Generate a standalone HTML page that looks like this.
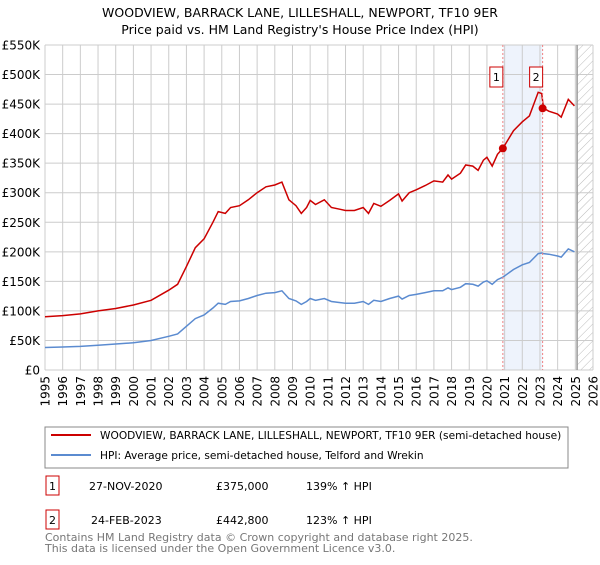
<!DOCTYPE html>
<html><head><meta charset="utf-8"><style>
body{margin:0;background:#fff;font-family:"Liberation Sans","DejaVu Sans",sans-serif;}
svg text{font-family:"DejaVu Sans","Liberation Sans",sans-serif;}
</style></head><body>
<svg id="c" width="600" height="560" viewBox="0 0 600 560" xmlns="http://www.w3.org/2000/svg">
<text x="300" y="17" text-anchor="middle" font-size="12.5" fill="#000">WOODVIEW, BARRACK LANE, LILLESHALL, NEWPORT, TF10 9ER</text>
<text x="300" y="34" text-anchor="middle" font-size="12.5" fill="#000">Price paid vs. HM Land Registry's House Price Index (HPI)</text>
<defs><pattern id="hatch" width="6" height="6" patternUnits="userSpaceOnUse" patternTransform="rotate(45)"><line x1="0" y1="0" x2="0" y2="6" stroke="#bbb" stroke-width="1"/></pattern></defs>
<g id="grid"></g><g id="marks"></g>
<rect x="45" y="427" width="523" height="41" fill="none" stroke="#888"/>
<line x1="51" y1="435" x2="91" y2="435" stroke="#cc0000" stroke-width="2"/>
<text x="100" y="439" font-size="10.6">WOODVIEW, BARRACK LANE, LILLESHALL, NEWPORT, TF10 9ER (semi-detached house)</text>
<line x1="51" y1="455" x2="91" y2="455" stroke="#5b8bd0" stroke-width="2"/>
<text x="100" y="459" font-size="10.6">HPI: Average price, semi-detached house, Telford and Wrekin</text>
<g font-size="11">
<rect x="46" y="476" width="13" height="19" fill="#fff" stroke="#cc0000"/><text x="52.5" y="490" text-anchor="middle">1</text>
<text x="89" y="490">27-NOV-2020</text><text x="216" y="490">£375,000</text><text x="306" y="490">139% ↑ HPI</text></g>
<g font-size="11">
<rect x="46" y="510" width="13" height="19" fill="#fff" stroke="#cc0000"/><text x="52.5" y="524" text-anchor="middle">2</text>
<text x="91" y="524">24-FEB-2023</text><text x="216" y="524">£442,800</text><text x="306" y="524">123% ↑ HPI</text></g>
<text x="45" y="541" font-size="11" fill="#777">Contains HM Land Registry data © Crown copyright and database right 2025.</text>
<text x="45" y="552" font-size="11" fill="#777">This data is licensed under the Open Government Licence v3.0.</text>
</svg>
<script>
const years=[1995,1996,1997,1998,1999,2000,2001,2002,2002.5,2003,2003.5,2004,2004.5,2004.8,2005.2,2005.5,2006,2006.5,2007,2007.5,2008,2008.4,2008.8,2009.2,2009.5,2009.8,2010,2010.3,2010.8,2011.2,2011.7,2012,2012.5,2013,2013.3,2013.6,2014,2014.5,2015,2015.2,2015.6,2016,2016.5,2017,2017.5,2017.8,2018,2018.5,2018.8,2019.2,2019.5,2019.8,2020,2020.3,2020.6,2020.9,2021.5,2022,2022.4,2022.9,2023.1,2023.2,2023.5,2024,2024.2,2024.6,2024.95];
const propertyValues=[90,92,95,100,104,110,118,135,145,175,207,222,250,268,265,275,278,288,300,310,313,318,288,278,265,275,287,280,288,275,272,270,270,275,265,282,277,287,298,286,300,305,312,320,318,330,323,333,347,345,338,355,360,345,365,375,405,420,430,470,468,443,438,433,428,458,447];
const hpiValues=[38,39,40,42,44,46,50,57,61,74,87,93,105,113,111,116,117,121,126,130,131,134,121,117,111,116,121,118,121,116,114,113,113,116,111,118,116,121,125,120,126,128,131,134,134,139,136,140,146,145,142,149,151,145,153,157,170,178,182,197,198,197,196,193,191,205,200];
const saleYears=[2020.9,2023.15];
const salePrices=[375,442.8];
const saleLabels=["1","2"];
const yTicks=[0,50,100,150,200,250,300,350,400,450,500,550];
const xTicks=[1995,1996,1997,1998,1999,2000,2001,2002,2003,2004,2005,2006,2007,2008,2009,2010,2011,2012,2013,2014,2015,2016,2017,2018,2019,2020,2021,2022,2023,2024,2025,2026];
const NS="http://www.w3.org/2000/svg";
const X=y=>45+(y-1995)*(548/31);
const Y=v=>370-v*(325/550);
function mk(p,t,a){const e=document.createElementNS(NS,t);for(const k in a)e.setAttribute(k,a[k]);p.appendChild(e);return e;}
const g=document.getElementById('grid'),m=document.getElementById('marks');
const shade=mk(g,'rect',{x:X(saleYears[0]),y:45,width:X(saleYears[1])-X(saleYears[0]),height:325,fill:'#eef3fc'});


const hatch=mk(g,'rect',{x:X(2025.1),y:45,width:X(2026)-X(2025.1),height:325,fill:'url(#hatch)'});


yTicks.forEach(v=>{
 mk(g,'line',{x1:45,x2:593,y1:Y(v),y2:Y(v),stroke:'#ccc'});
 const t=mk(g,'text',{x:40,y:Y(v)+4.5,'text-anchor':'end','font-size':12});
 t.textContent=v===0?'£0':'£'+v+'K';
 
 
});
xTicks.forEach(yr=>{
 mk(g,'line',{x1:X(yr),x2:X(yr),y1:45,y2:370,stroke:'#ccc'});
 const tx=X(yr)+4.5,ty=376;
 const t=mk(g,'text',{x:tx,y:ty,'text-anchor':'end','font-size':12,transform:'rotate(-90 '+tx+' '+ty+')'});
 t.textContent=yr;
 
 
});
mk(g,'line',{x1:X(2025.1),x2:X(2025.1),y1:45,y2:370,stroke:'#999','stroke-width':1.5});
const pts=a=>years.map((yr,i)=>X(yr).toFixed(1)+','+Y(a[i]).toFixed(1)).join(' ');
const h=mk(m,'polyline',{points:pts(hpiValues),fill:'none',stroke:'#5b8bd0','stroke-width':1.5});


const p=mk(m,'polyline',{points:pts(propertyValues),fill:'none',stroke:'#cc0000','stroke-width':1.5});


saleYears.forEach((yr,i)=>{
 mk(m,'line',{x1:X(yr),x2:X(yr),y1:45,y2:370,stroke:'#f08080','stroke-dasharray':'2,2'});
 const d=mk(m,'circle',{cx:X(yr),cy:Y(salePrices[i]),r:4,fill:'#cc0000'});
 
 
 const b=mk(m,'rect',{x:X(yr)-13,y:67,width:13,height:20,fill:'#fff',stroke:'#cc0000'});
 
 
 const t=mk(m,'text',{x:X(yr)-6.5,y:81,'text-anchor':'middle','font-size':11});
 t.textContent=saleLabels[i];
 
 
});
</script>
</body></html>
